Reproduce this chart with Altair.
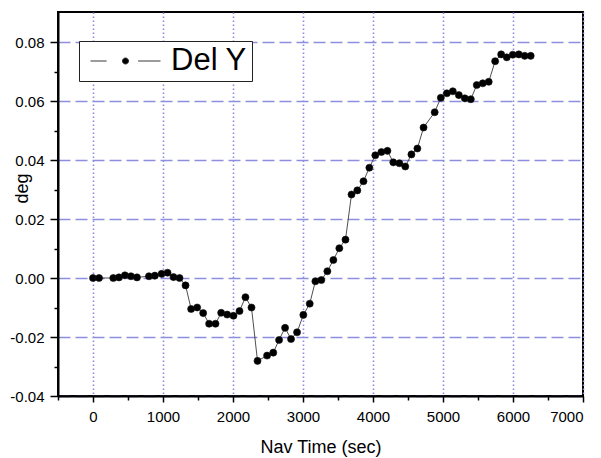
import altair as alt
import pandas as pd

# Data
nav_time = [0, 86, 290, 371, 456, 542, 628, 799, 884, 980, 1065, 1150, 1236,
            1322, 1402, 1488, 1574, 1659, 1750, 1831, 1917, 2007, 2093, 2178,
            2264, 2350, 2487, 2575, 2658, 2744, 2829, 2915, 3005, 3096, 3177,
            3262, 3348, 3434, 3519, 3607, 3693, 3776, 3864, 3948, 4033, 4120,
            4206, 4290, 4377, 4461, 4549, 4634, 4722, 4881, 4969, 5055, 5140,
            5226, 5312, 5397, 5482, 5568, 5653, 5745, 5831, 5911, 5997, 6083,
            6167, 6253]
del_y = [0.0000, 0.0000, 0.0000, 0.0002, 0.0009, 0.0006, 0.0002, 0.0006,
         0.0008, 0.0014, 0.0018, 0.0003, 0.0000, -0.0025, -0.0105, -0.0100,
         -0.0119, -0.0155, -0.0155, -0.0118, -0.0124, -0.0128, -0.0112,
         -0.0065, -0.0100, -0.0281, -0.0263, -0.0253, -0.0210, -0.0169,
         -0.0207, -0.0184, -0.0125, -0.0087, -0.0011, -0.0007, 0.0023,
         0.0061, 0.0101, 0.0130, 0.0283, 0.0297, 0.0328, 0.0374, 0.0416,
         0.0427, 0.0431, 0.0392, 0.0389, 0.0378, 0.0419, 0.0439, 0.0510,
         0.0562, 0.0611, 0.0626, 0.0633, 0.0620, 0.0609, 0.0606, 0.0654,
         0.0660, 0.0665, 0.0735, 0.0758, 0.0748, 0.0757, 0.0758, 0.0753,
         0.0753]
series_name = "Del Y"

x_major = [0, 1000, 2000, 3000, 4000, 5000, 6000, 7000]
x_minor = [-500, 500, 1500, 2500, 3500, 4500, 5500, 6500]
y_major = [-0.04, -0.02, 0.0, 0.02, 0.04, 0.06, 0.08]
y_minor = [-0.03, -0.01, 0.01, 0.03, 0.05, 0.07]

df = pd.DataFrame({"t": nav_time, "d": del_y, "series": series_name})

FONT = "Liberation Sans"
x_scale = alt.Scale(domain=[-500, 7000], nice=False, zero=False)
y_scale = alt.Scale(domain=[-0.04, 0.0901695], nice=False, zero=False)

y_label_expr = ("datum.value < -0.0000001 ? '-' + format(-datum.value, '.2f') "
                ": format(abs(datum.value), '.2f')")

line = alt.Chart(df).mark_line(color="#222222", strokeWidth=0.8).encode(
    x=alt.X("t:Q", scale=x_scale,
            axis=alt.Axis(values=x_major, format="d", orient="bottom",
                          title="Nav Time (sec)", titleFont=FONT,
                          titleFontSize=18, titleFontWeight="normal",
                          titleColor="black", titlePadding=14,
                          labelFont=FONT, labelFontSize=15, labelColor="black",
                          labelPadding=7, tickSize=6, tickWidth=1.5,
                          tickColor="black", domainColor="black",
                          domainWidth=2, grid=True, gridColor="#8a8ae6",
                          gridDash=[1.5, 2.5], gridWidth=1.6, gridOpacity=1)),
    y=alt.Y("d:Q", scale=y_scale,
            axis=alt.Axis(values=y_major, labelExpr=y_label_expr,
                          orient="left", title="deg", titleFont=FONT,
                          titleFontSize=18, titleFontWeight="normal",
                          titleColor="black", titleY=176, titleX=-36,
                          titleAlign="center", titleBaseline="middle",
                          labelFont=FONT, labelFontSize=15, labelColor="black",
                          labelPadding=6, tickSize=8, tickWidth=1.5,
                          tickColor="black", domainColor="black",
                          domainWidth=2, grid=True, gridColor="#8e8ede",
                          gridDash=[12, 5], gridWidth=1.7, gridOpacity=1)),
)

legend_symbol = ("M-1,0L-0.54,0M0.36,0L1,0"
                 "M-0.086,0A0.086,0.086,0,1,1,0.086,0"
                 "A0.086,0.086,0,1,1,-0.086,0Z")

points = alt.Chart(df).mark_circle(size=50, opacity=1,
                                   stroke="#111111", strokeWidth=0.6).encode(
    x=alt.X("t:Q", scale=x_scale,
            axis=alt.Axis(values=x_minor, labels=False, orient="bottom",
                          title=None, grid=False, domain=False, tickSize=4,
                          tickWidth=1.5, tickColor="black")),
    y=alt.Y("d:Q", scale=y_scale,
            axis=alt.Axis(values=y_minor, labels=False, orient="left",
                          title=None, grid=False, domain=False, tickSize=4,
                          tickWidth=1.5, tickColor="black")),
    color=alt.Color("series:N",
                    scale=alt.Scale(range=["black"]),
                    legend=alt.Legend(title=None, orient="none",
                                      legendX=21, legendY=29,
                                      symbolType=legend_symbol,
                                      symbolSize=4900,
                                      symbolStrokeWidth=0.9,
                                      symbolStrokeColor="#222222",
                                      symbolFillColor="black",
                                      clipHeight=30,
                                      labelFont=FONT, labelFontSize=31,
                                      labelColor="black", labelOffset=10,
                                      labelLimit=300,
                                      padding=5, symbolOffset=6,
                                      strokeColor="#222222",
                                      fillColor="white")),
)

chart = alt.layer(line, points).resolve_axis(
    x="independent", y="independent"
).properties(
    width=525, height=384,
    padding={"left": 58, "top": 12, "right": 18, "bottom": 62},
    autosize=alt.AutoSizeParams(type="none"),
    background="white",
).configure_view(stroke="black", strokeWidth=2)

chart.save("out.html", embed_options={"renderer": "svg", "actions": False})
